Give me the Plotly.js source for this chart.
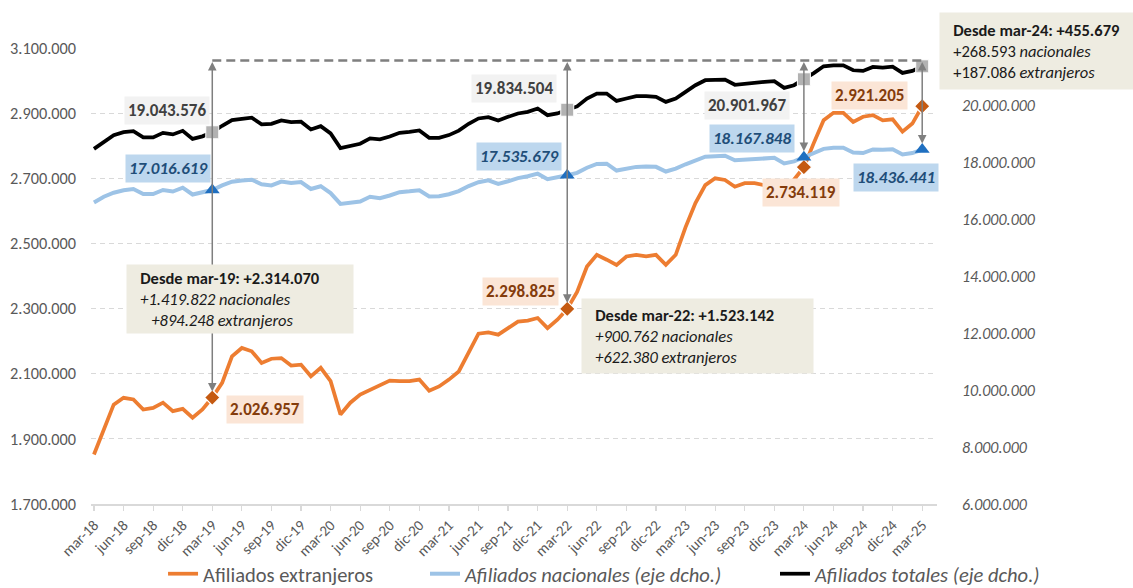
<!DOCTYPE html>
<html>
<head>
<meta charset="utf-8">
<script src="https://cdn.plot.ly/plotly-3.0.1.min.js"></script>
<style>html,body{margin:0;padding:0;background:#fff}#chart{width:1133px;height:588px}</style>
</head>
<body>
<div id="chart"></div>
<script>
// ---- DATA ----
const meses = [
  'mar-18','abr-18','may-18','jun-18','jul-18','ago-18','sep-18','oct-18','nov-18','dic-18','ene-19','feb-19',
  'mar-19','abr-19','may-19','jun-19','jul-19','ago-19','sep-19','oct-19','nov-19','dic-19','ene-20','feb-20',
  'mar-20','abr-20','may-20','jun-20','jul-20','ago-20','sep-20','oct-20','nov-20','dic-20','ene-21','feb-21',
  'mar-21','abr-21','may-21','jun-21','jul-21','ago-21','sep-21','oct-21','nov-21','dic-21','ene-22','feb-22',
  'mar-22','abr-22','may-22','jun-22','jul-22','ago-22','sep-22','oct-22','nov-22','dic-22','ene-23','feb-23',
  'mar-23','abr-23','may-23','jun-23','jul-23','ago-23','sep-23','oct-23','nov-23','dic-23','ene-24','feb-24',
  'mar-24','abr-24','may-24','jun-24','jul-24','ago-24','sep-24','oct-24','nov-24','dic-24','ene-25','feb-25',
  'mar-25'
];

const extranjeros = [
  1852000,1929000,2005000,2026000,2021000,1990000,1995000,2011000,1985000,1992000,1965000,1990000,
  2026957,2072000,2153000,2179000,2169000,2133000,2146000,2148000,2125000,2128000,2092000,2118000,
  2077000,1975000,2011000,2036000,2051000,2067000,2079000,2077000,2077000,2082000,2048000,2061000,
  2082000,2107000,2168000,2223000,2227000,2220000,2240000,2260000,2263000,2271000,2240000,2266000,
  2298825,2351000,2429000,2465000,2450000,2434000,2460000,2465000,2460000,2465000,2434000,2465000,
  2550000,2624000,2679000,2700000,2695000,2674000,2685000,2685000,2679000,2673000,2658000,2695000,
  2734119,2808000,2878000,2901000,2901000,2873000,2889000,2894000,2878000,2881000,2843000,2868000,
  2921205
];

const nacionales = [
  16580000,16783000,16923000,17010000,17050000,16878000,16875000,17018000,16965000,17098000,16860000,16930000,
  17016619,17180000,17309000,17350000,17380000,17220000,17180000,17312000,17265000,17295000,17053000,17150000,
  16910000,16530000,16560000,16615000,16780000,16728000,16825000,16940000,16970000,17010000,16790000,16800000,
  16870000,16980000,17155000,17290000,17358000,17232000,17325000,17435000,17500000,17590000,17398000,17460000,
  17535679,17620000,17799000,17933000,17940000,17700000,17755000,17828000,17840000,17830000,17667000,17770000,
  17920000,18057000,18187000,18200000,18220000,18060000,18080000,18125000,18147000,18145000,17948000,18020000,
  18167848,18308000,18462000,18503000,18503000,18335000,18315000,18442000,18427000,18448000,18262000,18315000,
  18436441
];

const totales = [
  18460000,18709000,18944000,19045000,19080000,18863000,18863000,19024000,18968000,19094000,18810000,18900000,
  19043576,19270000,19469000,19515000,19555000,19320000,19340000,19460000,19400000,19415000,19143000,19259000,
  19003000,18490000,18558000,18640000,18828000,18793000,18895000,19024000,19059000,19105000,18849000,18849000,
  18944000,19100000,19340000,19528000,19574000,19458000,19584000,19703000,19759000,19878000,19644000,19703000,
  19834504,19950000,20228000,20403000,20403000,20144000,20228000,20309000,20309000,20284000,20109000,20228000,
  20460000,20694000,20869000,20894000,20894000,20710000,20753000,20790000,20810000,20834000,20600000,20694000,
  20901967,21120000,21359000,21394000,21394000,21219000,21195000,21335000,21314000,21345000,21125000,21195000,
  21357646
];

const hitos = [12, 48, 72, 84];          // mar-19, mar-22, mar-24, mar-25
const nombres = ['Afiliados extranjeros', 'Afiliados nacionales (eje dcho.)', 'Afiliados totales (eje dcho.)'];
const ticksIzq = [1700000,1900000,2100000,2300000,2500000,2700000,2900000,3100000];
const ticksDer = [6000000,8000000,10000000,12000000,14000000,16000000,18000000,20000000];

// ---- HELPERS ----
const FONT = 'Calibri, Carlito, "Liberation Sans", Arial, sans-serif';
const fmt = n => (n < 0 ? '-' : '') + Math.abs(Math.round(n)).toString().replace(/\B(?=(\d{3})+(?!\d))/g, '.');
const xi = meses.map((_, i) => i);
const tickvals = xi.filter(i => i % 3 === 0);
const ticktext = tickvals.map(i => meses[i]);
const Y1 = [1700000, 3100000], Y2 = [6000000, 22000000];
const toY2 = v => Y2[0] + (v - Y1[0]) / (Y1[1] - Y1[0]) * (Y2[1] - Y2[0]);
const topY = 3062000;
const last = hitos[hitos.length - 1];
const NB = '\u00a0';

// ---- TRACES ----
const traces = [
  {x: xi, y: extranjeros, name: nombres[0], type: 'scatter', mode: 'lines', legend: 'legend',
   line: {color: '#ed7d31', width: 3.75}, yaxis: 'y', hoverinfo: 'skip'},
  {x: xi, y: nacionales, name: '<i>' + nombres[1] + '</i>', type: 'scatter', mode: 'lines', legend: 'legend2',
   line: {color: '#9dc3e6', width: 4}, yaxis: 'y2', hoverinfo: 'skip'},
  {x: xi, y: totales, name: '<i>' + nombres[2] + '</i>', type: 'scatter', mode: 'lines', legend: 'legend3',
   line: {color: '#000000', width: 3.75}, yaxis: 'y2', hoverinfo: 'skip'},
  {x: hitos, y: hitos.map(i => extranjeros[i]), type: 'scatter', mode: 'markers', yaxis: 'y', showlegend: false,
   marker: {symbol: 'diamond', size: 12, color: '#c55a11', line: {color: '#ffffff', width: 1.2}}, hoverinfo: 'skip'},
  {x: hitos, y: hitos.map(i => nacionales[i]), type: 'scatter', mode: 'markers', yaxis: 'y2', showlegend: false,
   marker: {symbol: 'triangle-up', size: 13, color: '#1f6fc0'}, hoverinfo: 'skip'},
  {x: hitos, y: hitos.map(i => totales[i]), type: 'scatter', mode: 'markers', yaxis: 'y2', showlegend: false,
   marker: {symbol: 'square', size: 13, color: '#b2b2b2', line: {color: '#ffffff', width: 1}}, hoverinfo: 'skip'}
];

// ---- ANNOTATIONS ----
const ann = [];
function arrow(i, yv, yref, topv) {
  ann.push({x: i, y: yv, xref: 'x', yref: yref, ax: i, ay: topv, axref: 'x', ayref: yref,
    showarrow: true, arrowside: 'end+start', arrowhead: 2, startarrowhead: 2,
    arrowsize: 1.15, startarrowsize: 1.15, arrowwidth: 1.5, arrowcolor: '#7f7f7f',
    standoff: 6, startstandoff: 0, text: ''});
}
arrow(hitos[0], extranjeros[hitos[0]], 'y', topY);
arrow(hitos[1], extranjeros[hitos[1]], 'y', topY);
arrow(hitos[2], nacionales[hitos[2]], 'y2', toY2(topY));
arrow(hitos[3], nacionales[hitos[3]], 'y2', toY2(topY));

const LS = 17;
const sty = {
  tot: {bgcolor: '#f2f2f2', font: {family: FONT, size: LS, color: '#404040', weight: 'bold'}},
  nac: {bgcolor: '#bdd7ee', font: {family: FONT, size: LS, color: '#1f4e79', weight: 'bold', style: 'italic'}},
  ext: {bgcolor: '#fbe5d6', font: {family: FONT, size: LS, color: '#843c0c', weight: 'bold'}}
};
function label(text, x, y, kind, xanchor, xshift) {
  ann.push(Object.assign({text: text, x: x, y: y, xref: 'x', yref: 'y', showarrow: false,
    xanchor: xanchor, yanchor: 'middle', xshift: xshift || 0, borderpad: 3}, sty[kind]));
}
// mar-19
label(fmt(totales[12]), 12, 2909000, 'tot', 'right', -2);
label(fmt(nacionales[12]), 12, 2730000, 'nac', 'right', -1);
label(fmt(extranjeros[12]), 12, 1990000, 'ext', 'left', 14);
// mar-22
label(fmt(totales[48]), 48, 2976000, 'tot', 'right', -10);
label(fmt(nacionales[48]), 48, 2768000, 'nac', 'right', -5);
label(fmt(extranjeros[48]), 48, 2352000, 'ext', 'right', -8);
// mar-24
label(fmt(totales[72]), 72, 2924000, 'tot', 'right', -14);
label(fmt(nacionales[72]), 72, 2821000, 'nac', 'right', -9);
label(fmt(extranjeros[72]), 72, 2655000, 'ext', 'center', -3);
// mar-25
label(fmt(totales[84]), 77.4, 3126000, 'tot', 'center', 0);
label(fmt(extranjeros[84]), 78.7, 2955000, 'ext', 'center', 0);
label(fmt(nacionales[84]), 81.3, 2703000, 'nac', 'center', 0);

// summary boxes
function resumen(i, italicNums) {
  const dT = totales[last] - totales[i], dN = nacionales[last] - nacionales[i], dE = extranjeros[last] - extranjeros[i];
  const p = NB + NB + NB;
  const l1 = p + '<b>Desde ' + meses[i] + ': +' + fmt(dT) + '</b>';
  const l2 = italicNums ? p + '<i>+' + fmt(dN) + ' nacionales</i>' : p + '+' + fmt(dN) + ' <i>nacionales</i>';
  const l3 = italicNums ? p + '<i>+' + fmt(dE) + ' extranjeros</i>' : p + '+' + fmt(dE) + ' <i>extranjeros</i>';
  return [l1, l2, l3];
}
const boxFont = {family: FONT, size: 16.5, color: '#1a1a1a'};
(function () {
  const r = resumen(12, true);
  ann.push({text: r[0] + '<br>' + r[1] + '<br>' + NB + NB + NB + r[2], x: 14.8, y: 2330000, xref: 'x', yref: 'y',
    showarrow: false, xanchor: 'center', yanchor: 'middle', align: 'left', width: 222, height: 64, borderpad: 2,
    bgcolor: '#eeece1', font: boxFont});
  const s = resumen(48, true);
  ann.push({text: s.join('<br>'), x: 61.2, y: 2217000, xref: 'x', yref: 'y',
    showarrow: false, xanchor: 'center', yanchor: 'middle', align: 'left', width: 227, height: 70, borderpad: 2,
    bgcolor: '#eeece1', font: boxFont});
  const t = resumen(72, false);
  ann.push({text: t.join('<br>'), x: 1.1176, y: 0.9928, xref: 'paper', yref: 'paper',
    showarrow: false, xanchor: 'center', yanchor: 'middle', align: 'left', width: 189, height: 72, borderpad: 2,
    bgcolor: '#eeece1', font: boxFont});
})();

// ---- LAYOUT ----
const legBase = {orientation: 'h', xref: 'container', yref: 'container', xanchor: 'left',
  y: 0.024, yanchor: 'middle', font: {family: FONT, size: 20.5, color: '#595959'}, bgcolor: 'rgba(0,0,0,0)'};
const layout = {
  width: 1133, height: 588,
  margin: {l: 91, r: 196, t: 48, b: 84, autoexpand: false},
  paper_bgcolor: '#ffffff', plot_bgcolor: '#ffffff',
  separators: ',.',
  font: {family: FONT, color: '#595959'},
  showlegend: true,
  legend: Object.assign({}, legBase, {x: 0.1439}),
  legend2: Object.assign({}, legBase, {x: 0.3751}),
  legend3: Object.assign({}, legBase, {x: 0.6840}),
  xaxis: {range: [-0.3, 85.5], tickmode: 'array', tickvals: tickvals, ticktext: ticktext, tickangle: -45,
    showgrid: false, zeroline: false, showline: true, linecolor: '#d9d9d9', linewidth: 1.5,
    ticks: 'outside', ticklen: 5, tickcolor: '#d9d9d9', tickwidth: 1.2,
    tickfont: {family: FONT, size: 15, color: '#595959'}, fixedrange: true},
  yaxis: {range: Y1, tickmode: 'array', tickvals: ticksIzq, tickformat: ',d', showgrid: true,
    gridcolor: '#d9d9d9', gridwidth: 1, griddash: '5px,4px', zeroline: false, showline: false, ticks: '',
    ticklabelstandoff: 14, tickfont: {family: FONT, size: 16.3, color: '#595959'}, fixedrange: true},
  yaxis2: {range: Y2, overlaying: 'y', side: 'right', tickmode: 'array', tickvals: ticksDer, tickformat: ',d',
    showgrid: false, zeroline: false, showline: false, ticks: '', ticklabelstandoff: 24,
    tickfont: {family: FONT, size: 16, color: '#595959', style: 'italic'}, fixedrange: true},
  shapes: [{type: 'line', xref: 'x', yref: 'y', x0: hitos[0], x1: last, y0: topY, y1: topY,
    line: {color: '#7f7f7f', width: 2.5, dash: '9px,5px'}}],
  annotations: ann
};

Plotly.newPlot('chart', traces, layout, {staticPlot: true, displayModeBar: false});
</script>
</body>
</html>
